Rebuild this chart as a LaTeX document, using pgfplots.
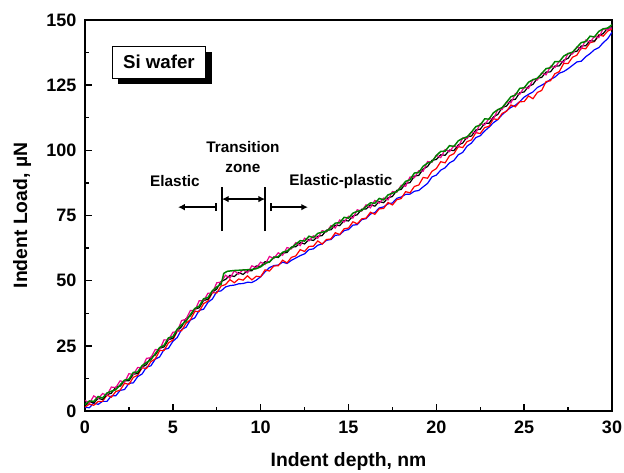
\documentclass[border=0pt]{standalone}
\usepackage{fontspec}
\setmainfont{Liberation Sans}
\usepackage{pgfplots}
\pgfplotsset{compat=1.18}
\usetikzlibrary{arrows.meta,shadows}

\definecolor{dgreen}{RGB}{0,128,0}

\begin{document}
\begin{tikzpicture}
\begin{axis}[
    scale only axis,
    width=395.25pt, height=293.25pt,
    xmin=0, xmax=30, ymin=0, ymax=150,
    xtick={0,5,...,30}, ytick={0,25,...,150},
    minor x tick num=1, minor y tick num=1,
    xtick pos=left, ytick pos=left,
    tick align=inside,
    major tick length=5pt, minor tick length=3pt,
    axis line style={line width=1.4pt},
    every tick/.style={line width=1.1pt, black},
    /pgf/number format/assume math mode=true,
    ticklabel style={font=\fontsize{13.5}{16}\selectfont\bfseries},
    yticklabel style={xshift=-3pt},
    xticklabel style={yshift=-4pt},
    label style={font=\fontsize{14.5}{17}\selectfont\bfseries},
    xlabel={Indent depth, nm},
    ylabel={Indent Load, µN},
    xlabel style={at={(axis description cs:0.5,-0.1304)}, anchor=center},
    ylabel style={at={(axis description cs:-0.1195,0.5)}, anchor=center},
    every axis plot/.append style={line width=0.9pt},
    clip=true,
]
% blue
\addplot[blue] coordinates {
(0,1.4) (0.25,1.25) (0.5,3.1) (0.75,2.55) (1,3.7) (1.25,3.7) (1.5,5.8) (1.75,5.85)
(2,7.9) (2.25,8.25) (2.5,10.6) (2.75,10.8) (3,13.2) (3.25,14.2) (3.5,16.8) (3.75,17.35)
(4,19.9) (4.25,20.75) (4.5,23.6) (4.75,24.05) (5,26.7) (5.25,28.2) (5.5,31.3) (5.75,32.1)
(6,34.9) (6.25,35.75) (6.5,38.6) (6.75,39.05) (7,41.7) (7.25,42.95) (7.5,45.8) (7.75,46.1)
(8,47.6) (8.25,48.1) (8.5,48.3) (8.75,48.8) (9,48.9) (9.25,49.4) (9.5,49.3) (9.75,50.2)
(10,51.5) (10.25,53.4) (10.5,55) (10.75,55.8) (11,56) (11.25,57.1) (11.5,56.6) (11.75,57.8)
(12,58.7) (12.25,59.6) (12.5,60.3) (12.75,61.9) (13,62.2) (13.25,63.6) (13.5,64.1) (13.75,65.5)
(14,65.8) (14.25,67.4) (14.5,67.6) (14.75,69.2) (15,69.6) (15.25,71.3) (15.5,71.5) (15.75,73.4)
(16,73.8) (16.25,75.6) (16.5,76.1) (16.75,77.9) (17,78.3) (17.25,79.5) (17.5,79.8) (17.75,81.6)
(18,82.1) (18.25,83.1) (18.5,83.2) (18.75,84.3) (19,84.6) (19.25,86.0) (19.5,87.3) (19.75,89.8)
(20,90.5) (20.25,92.4) (20.5,93.3) (20.75,95.2) (21,96.1) (21.25,98.3) (21.5,99.2) (21.75,101.6)
(22,102.8) (22.25,104.9) (22.5,105.6) (22.75,107.4) (23,108.9) (23.25,110.6) (23.5,111.8) (23.75,113.7)
(24,115.2) (24.25,116.5) (24.5,117.3) (24.75,118.7) (25,120.4) (25.25,121.5) (25.5,122.4) (25.75,124.1)
(26,125) (26.25,126) (26.5,127.2) (26.75,128.1) (27,129.6) (27.25,130.2) (27.5,131.3) (27.75,132.6)
(28,133.9) (28.25,134.2) (28.5,135.9) (28.75,137.1) (29,138.6) (29.25,139.4) (29.5,141.3) (29.75,142.8)
(30,145.3)};
% red
\addplot[red] coordinates {
(0,1.5) (0.25,2.65) (0.5,2.2) (0.75,3.65) (1,3.7) (1.25,6.1) (1.5,5.3) (1.75,7.45)
(2,8) (2.25,10.65) (2.5,10.2) (2.75,12.9) (3,13.7) (3.25,16.6) (3.5,16.3) (3.75,18.95)
(4,20) (4.25,23.15) (4.5,23.2) (4.75,26.15) (5,27.2) (5.25,30.6) (5.5,30.8) (5.75,33.7)
(6,35) (6.25,38.15) (6.5,38.2) (6.75,41.15) (7,42.2) (7.25,45.35) (7.5,45.3) (7.75,47.95)
(8,48.5) (8.25,50.4) (8.5,49.2) (8.75,50.65) (9,50.2) (9.25,51.85) (9.5,50.3) (9.75,51.7)
(10,51.5) (10.25,54.15) (10.5,53.7) (10.75,55.65) (11,55.7) (11.25,57.85) (11.5,56.8) (11.75,58.95)
(12,59.5) (12.25,61.9) (12.5,61.2) (12.75,63.15) (13,63.2) (13.25,65.25) (13.5,64.05) (13.75,65.8)
(14,66) (14.25,68.4) (14.5,67.7) (14.75,69.9) (15,70.2) (15.25,72.6) (15.5,71.8) (15.75,73.7)
(16,74) (16.25,76.25) (16.5,75.45) (16.75,77.55) (17,77.7) (17.25,80) (17.5,79.05) (17.75,81.05)
(18,81.5) (18.25,84.15) (18.5,83.7) (18.75,86.15) (19,86.7) (19.25,89.6) (19.5,89.3) (19.75,91.95)
(20,93) (20.25,95.65) (20.5,95.2) (20.75,97.9) (21,98.7) (21.25,101.45) (21.5,101.05) (21.75,103.35)
(22,104) (22.25,106.8) (22.5,106.45) (22.75,108.75) (23,109.2) (23.25,112.1) (23.5,111.8) (23.75,114.2)
(24,115) (24.25,117.4) (24.5,116.7) (24.75,118.65) (25,118.7) (25.25,120.85) (25.5,119.8) (25.75,122.2)
(26,123) (26.25,126.4) (26.5,126.7) (26.75,129.4) (27,130.2) (27.25,133.35) (27.5,133.3) (27.75,135.7)
(28,136.5) (28.25,139.25) (28.5,138.95) (28.75,141.3) (29,141.7) (29.25,144.35) (29.5,143.8) (29.75,145.7)
(30,146.5)};
% black
\addplot[black] coordinates {
(0,2) (0.25,3.55) (0.5,3.1) (0.75,4.85) (1,4.4) (1.25,6.3) (1.5,6.8) (1.75,9.15)
(2,9.5) (2.25,11.55) (2.5,11.6) (2.75,14.1) (3,14.4) (3.25,16.8) (3.5,17.8) (3.75,20.65)
(4,21.5) (4.25,24.05) (4.5,24.6) (4.75,27.35) (5,27.9) (5.25,30.8) (5.5,32.3) (5.75,35.4)
(6,36.5) (6.25,39.05) (6.5,39.6) (6.75,42.35) (7,42.9) (7.25,45.55) (7.5,46.8) (7.75,49.65)
(8,50.5) (8.25,52.05) (8.5,51.6) (8.75,53.1) (9,52.4) (9.25,53.8) (9.5,53.8) (9.75,55.65)
(10,55.5) (10.25,57.3) (10.5,57.1) (10.75,59.1) (11,58.9) (11.25,60.55) (11.5,60.8) (11.75,62.9)
(12,63) (12.25,64.55) (12.5,64.1) (12.75,65.85) (13,65.4) (13.25,67.05) (13.5,67.3) (13.75,69.4)
(14,69.5) (14.25,71.3) (14.5,71.1) (14.75,73.1) (15,72.9) (15.25,74.8) (15.5,75.3) (15.75,77.4)
(16,77.5) (16.25,79.05) (16.5,78.6) (16.75,80.35) (17,79.9) (17.25,81.8) (17.5,82.3) (17.75,84.65)
(18,85) (18.25,87.3) (18.5,87.6) (18.75,90.1) (19,90.4) (19.25,92.8) (19.5,93.8) (19.75,96.15)
(20,96.5) (20.25,98.3) (20.5,98.1) (20.75,100.1) (21,99.9) (21.25,102.05) (21.5,102.8) (21.75,105.15)
(22,105.5) (22.25,107.8) (22.5,108.1) (22.75,110.35) (23,110.4) (23.25,112.8) (23.5,113.8) (23.75,116.4)
(24,117) (24.25,119.3) (24.5,119.6) (24.75,122.1) (25,122.4) (25.25,124.55) (25.5,125.3) (25.75,127.65)
(26,128) (26.25,130.05) (26.5,130.1) (26.75,132.35) (27,132.4) (27.25,134.55) (27.5,135.3) (27.75,137.65)
(28,138) (28.25,140.05) (28.5,140.1) (28.75,142.1) (29,141.9) (29.25,144.05) (29.5,144.8) (29.75,146.9)
(30,147)};
% magenta
\addplot[magenta] coordinates {
(0,4.1) (0.25,2.95) (0.5,5.8) (0.75,4.75) (1,6.7) (1.25,6) (1.5,9.2) (1.75,8.95)
(2,11.6) (2.25,10.95) (2.5,14.3) (2.75,14) (3,16.7) (3.25,16.5) (3.5,20.2) (3.75,20.45)
(4,23.6) (4.25,23.45) (4.5,27.3) (4.75,27.25) (5,30.2) (5.25,30.5) (5.5,34.7) (5.75,35.2)
(6,38.6) (6.25,38.45) (6.5,42.3) (6.75,42.25) (7,45.2) (7.25,45.25) (7.5,49.2) (7.75,49.45)
(8,52.1) (8.25,50.95) (8.5,53.8) (8.75,52.5) (9,54.2) (9.25,53) (9.5,55.7) (9.75,54.95)
(10,57.1) (10.25,56.2) (10.5,59.3) (10.75,58.5) (11,60.7) (11.25,59.75) (11.5,62.7) (11.75,62.2)
(12,64.6) (12.25,63.45) (12.5,66.3) (12.75,65.25) (13,67.2) (13.25,66.25) (13.5,69.2) (13.75,68.7)
(14,71.1) (14.25,70.2) (14.5,73.3) (14.75,72.5) (15,74.7) (15.25,74) (15.5,77.2) (15.75,76.7)
(16,79.1) (16.25,77.95) (16.5,80.8) (16.75,79.75) (17,81.7) (17.25,81) (17.5,84.2) (17.75,83.95)
(18,86.6) (18.25,86.2) (18.5,89.8) (18.75,89.5) (19,92.2) (19.25,92) (19.5,95.7) (19.75,95.45)
(20,98.1) (20.25,97.2) (20.5,100.3) (20.75,99.5) (21,101.7) (21.25,101.25) (21.5,104.7) (21.75,104.45)
(22,107.1) (22.25,106.7) (22.5,110.3) (22.75,109.75) (23,112.2) (23.25,112) (23.5,115.7) (23.75,115.7)
(24,118.6) (24.25,118.2) (24.5,121.8) (24.75,121.5) (25,124.2) (25.25,123.75) (25.5,127.2) (25.75,126.95)
(26,129.6) (26.25,128.95) (26.5,132.3) (26.75,131.75) (27,134.2) (27.25,133.75) (27.5,137.2) (27.75,136.95)
(28,139.6) (28.25,138.95) (28.5,142.3) (28.75,141.5) (29,143.7) (29.25,143.25) (29.5,146.7) (29.75,146.2)
(30,147)};
% green
\addplot[dgreen, line width=1.1pt] coordinates {
(0,2.5) (0.25,3.85) (0.5,3.7) (0.75,5.55) (1,5) (1.25,6.9) (1.5,7.6) (1.75,8.15)
(2,10) (2.25,11.85) (2.5,12.2) (2.75,14.8) (3,15) (3.25,17.4) (3.5,18.6) (3.75,19.65)
(4,22) (4.25,24.35) (4.5,25.2) (4.75,28.05) (5,28.5) (5.25,31.4) (5.5,33.1) (5.75,34.4)
(6,37) (6.25,39.35) (6.5,40.2) (6.75,43.05) (7,43.5) (7.25,46.15) (7.5,47.6) (7.75,48.65)
(7.9,52.8) (8.1,53.6) (8.5,53.9) (9,54.1) (9.5,54.3) (9.75,54.6)
(10,55.3) (10.25,56.6) (10.5,57.2) (10.75,58.9) (11,59.2) (11.25,60.9) (11.5,61.4) (11.75,62.6)
(12,64) (12.25,65.35) (12.5,65.2) (12.75,67.05) (13,66.5) (13.25,68.15) (13.5,68.6) (13.75,68.9)
(14,70.5) (14.25,72.1) (14.5,72.2) (14.75,74.3) (15,74) (15.25,75.9) (15.5,76.6) (15.75,76.9)
(16,78.5) (16.25,79.85) (16.5,79.7) (16.75,81.55) (17,81) (17.25,82.9) (17.5,83.6) (17.75,84.15)
(18,86) (18.25,88.1) (18.5,88.7) (18.75,91.3) (19,91.5) (19.25,93.9) (19.5,95.1) (19.75,95.65)
(20,98) (20.25,99.6) (20.5,99.7) (20.75,101.8) (21,101.5) (21.25,103.65) (21.5,104.6) (21.75,105.15)
(22,107) (22.25,109.1) (22.5,109.7) (22.75,112.05) (23,112) (23.25,114.4) (23.5,115.6) (23.75,116.4)
(24,118.5) (24.25,120.6) (24.5,121.2) (24.75,123.8) (25,124) (25.25,126.15) (25.5,127.1) (25.75,127.65)
(26,129.5) (26.25,131.35) (26.5,131.7) (26.75,134.05) (27,134) (27.25,136.15) (27.5,137.1) (27.75,137.65)
(28,139.5) (28.25,141.35) (28.5,141.7) (28.75,143.8) (29,143.5) (29.25,145.65) (29.5,146.6) (29.75,146.9)
(30,148.2)};

% annotations
\node[draw=black, line width=0.6pt, fill=white,
      drop shadow={shadow xshift=4.5pt, shadow yshift=-4.5pt, fill=black, opacity=1},
      minimum width=70pt, minimum height=24pt, inner sep=0pt,
      font=\fontsize{14}{16}\selectfont\bfseries]
  at (axis cs:4.21,133.9) {Si wafer};

\begin{scope}[line width=1.2pt]
\draw (axis cs:7.8,69.0) -- (axis cs:7.8,85.9);
\draw (axis cs:10.25,69.0) -- (axis cs:10.25,85.9);
\draw[{Latex[length=5pt,width=5pt]}-{Latex[length=5pt,width=5pt]}] (axis cs:7.8,81.3) -- (axis cs:10.25,81.3);
\draw[{Bar[width=6pt]}-{Latex[length=5pt,width=5pt]}] (axis cs:7.51,78.2) -- (axis cs:5.3,78.2);
\draw[{Bar[width=6pt]}-{Latex[length=5pt,width=5pt]}] (axis cs:10.53,78.2) -- (axis cs:12.69,78.2);
\end{scope}

\node[font=\fontsize{11.5}{15}\selectfont\bfseries] at (axis cs:5.12,88.2) {Elastic};
\node[font=\fontsize{11.5}{15}\selectfont\bfseries, align=center] at (axis cs:8.99,97.4) {Transition\\zone};
\node[font=\fontsize{11.5}{15}\selectfont\bfseries] at (axis cs:14.57,88.2) {Elastic-plastic};
\end{axis}
\pgfresetboundingbox
\path[use as bounding box] (-63.75pt,-45.75pt) rectangle (404.25pt,308.25pt);
\end{tikzpicture}
\end{document}
